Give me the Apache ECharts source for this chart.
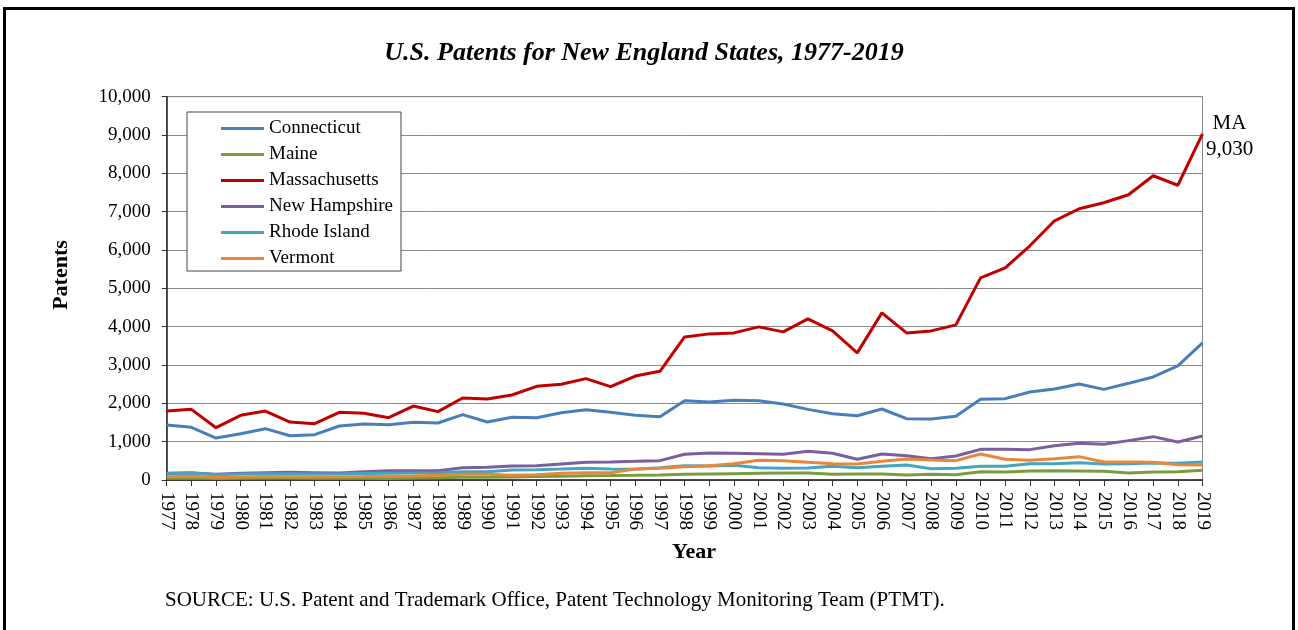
<!DOCTYPE html>
<html>
<head>
<meta charset="utf-8">
<script src="https://cdn.jsdelivr.net/npm/echarts@6/dist/echarts.min.js"></script>
<style>
  html, body { margin: 0; padding: 0; background: #fff; }
  #main { width: 1298px; height: 630px; }
</style>
</head>
<body>
<div id="main"></div>
<script>
// years on the x axis
const years = [];
for (let y = 1977; y <= 2019; y++) years.push(String(y));

// patents per state
const connecticut = [1434, 1374, 1095, 1208, 1339, 1156, 1182, 1408, 1461, 1443, 1504, 1487, 1704, 1513, 1635, 1626, 1756, 1835, 1765, 1687, 1652,
  2070, 2035, 2078, 2070, 1983, 1843, 1730, 1678, 1852, 1600, 1591, 1661, 2104, 2122, 2296, 2374, 2505, 2365, 2522, 2689, 2977, 3577];
const maine = [45, 50, 40, 45, 50, 50, 45, 50, 45, 40, 55, 60, 70, 75, 80, 90, 100, 110, 115, 122, 130,
  148, 157, 165, 174, 183, 183, 148, 157, 157, 130, 148, 139, 218, 209, 235, 244, 235, 226, 183, 209, 218, 252];
const massachusetts = [1800, 1843, 1365, 1687, 1800, 1513, 1470, 1765, 1739, 1626, 1930, 1783, 2139, 2113, 2217, 2444, 2496, 2644, 2435, 2713, 2835,
  3731, 3812, 3838, 3995, 3864, 4204, 3890, 3316, 4360, 3838, 3890, 4047, 5274, 5535, 6110, 6762, 7076, 7232, 7441, 7937, 7690, 9030];
const newHampshire = [170, 180, 150, 175, 190, 200, 190, 180, 215, 240, 243, 240, 320, 330, 365, 374, 418, 461, 470, 487, 505,
  670, 705, 696, 687, 670, 748, 696, 540, 679, 635, 557, 626, 800, 800, 792, 896, 957, 931, 1027, 1131, 992, 1148];
const rhodeIsland = [174, 191, 140, 155, 165, 160, 155, 160, 170, 175, 180, 191, 218, 218, 261, 270, 287, 305, 287, 278, 322,
  374, 365, 383, 322, 305, 313, 357, 322, 357, 391, 296, 305, 357, 357, 426, 426, 452, 418, 426, 444, 435, 470];
const vermont = [87, 95, 70, 80, 90, 85, 85, 87, 90, 95, 105, 122, 148, 148, 122, 139, 174, 190, 190, 287, 305,
  348, 374, 426, 513, 505, 461, 426, 418, 487, 548, 522, 505, 679, 540, 513, 557, 609, 470, 470, 461, 400, 391];

const serif = '"Liberation Serif", "Times New Roman", serif';

const chart = echarts.init(document.getElementById('main'));

function line(name, data, color) {
  return {
    name: name,
    type: 'line',
    data: data,
    symbol: 'none',
    color: color,
    lineStyle: { width: 3, color: color }
  };
}

const maSeries = line('Massachusetts', massachusetts, '#C00000');
maSeries.endLabel = {
  show: true,
  formatter: function (p) {
    return 'MA\n' + Number(p.value).toLocaleString('en-US');
  },
  fontFamily: serif,
  fontSize: 21,
  lineHeight: 26,
  color: '#000',
  align: 'center',
  verticalAlign: 'middle',
  distance: 0,
  offset: [27, 3]
};

const option = {
  animation: false,
  backgroundColor: '#fff',
  textStyle: { fontFamily: serif, color: '#000' },
  grid: {
    left: 166.7,
    right: 95.5,
    top: 96.7,
    bottom: 150,
    show: true,
    borderColor: '#8a8a8a',
    borderWidth: 1
  },
  legend: {
    orient: 'vertical',
    left: 187,
    top: 112,
    padding: [7, 8, 3, 34],
    itemWidth: 43,
    itemHeight: 3,
    itemGap: 7,
    icon: 'rect',
    borderColor: '#444',
    borderWidth: 1,
    backgroundColor: '#fff',
    textStyle: { fontFamily: serif, fontSize: 19, color: '#000', lineHeight: 19 },
    data: ['Connecticut', 'Maine', 'Massachusetts', 'New Hampshire', 'Rhode Island', 'Vermont']
  },
  xAxis: {
    type: 'category',
    data: years,
    boundaryGap: false,
    axisLine: { lineStyle: { color: '#222', width: 1.5 } },
    axisTick: { show: true, length: 6, alignWithLabel: true, lineStyle: { color: '#333' } },
    axisLabel: {
      interval: 0,
      rotate: -90,
      margin: 12,
      fontFamily: serif,
      fontSize: 19,
      color: '#000'
    },
    splitLine: { show: false }
  },
  yAxis: {
    type: 'value',
    min: 0,
    max: 10000,
    interval: 1000,
    axisLine: { show: true, lineStyle: { color: '#222', width: 1.5 } },
    axisTick: { show: true, length: 5, lineStyle: { color: '#333' } },
    axisLabel: {
      margin: 16,
      fontFamily: serif,
      fontSize: 19,
      color: '#000',
      formatter: function (v) { return v.toLocaleString('en-US'); }
    },
    splitLine: { lineStyle: { color: '#8a8a8a', width: 1 } }
  },
  graphic: [
    {
      type: 'rect',
      shape: { x: 4.5, y: 8.5, width: 1289, height: 640 },
      style: { fill: 'none', stroke: '#000', lineWidth: 3 },
      silent: true,
      z: 100
    },
    {
      type: 'text',
      x: 644,
      y: 53,
      style: {
        text: 'U.S. Patents for New England States, 1977-2019',
        font: 'italic bold 26px ' + serif,
        fill: '#000',
        textAlign: 'center',
        textVerticalAlign: 'middle'
      }
    },
    {
      type: 'text',
      x: 61,
      y: 275,
      rotation: Math.PI / 2,
      style: {
        text: 'Patents',
        font: 'bold 22px ' + serif,
        fill: '#000',
        textAlign: 'center',
        textVerticalAlign: 'middle'
      }
    },
    {
      type: 'text',
      x: 694,
      y: 552,
      style: {
        text: 'Year',
        font: 'bold 22px ' + serif,
        fill: '#000',
        textAlign: 'center',
        textVerticalAlign: 'middle'
      }
    },
    {
      type: 'text',
      x: 165,
      y: 600,
      style: {
        text: 'SOURCE: U.S. Patent and Trademark Office, Patent Technology Monitoring Team (PTMT).',
        font: '21px ' + serif,
        fill: '#000',
        textAlign: 'left',
        textVerticalAlign: 'middle'
      }
    }
  ],
  series: [
    line('Connecticut', connecticut, '#4A7EBB'),
    line('Maine', maine, '#7B9C3E'),
    maSeries,
    line('New Hampshire', newHampshire, '#7A5FA0'),
    line('Rhode Island', rhodeIsland, '#46A4BC'),
    line('Vermont', vermont, '#E8873A')
  ]
};

chart.setOption(option);
</script>
</body>
</html>
